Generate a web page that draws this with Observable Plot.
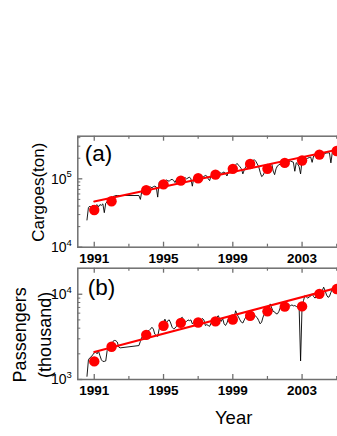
<!DOCTYPE html>
<html><head><meta charset="utf-8">
<script src="https://cdn.jsdelivr.net/npm/d3@7"></script>
<script src="https://cdn.jsdelivr.net/npm/@observablehq/plot@0.6"></script>
<style>
html,body{margin:0;padding:0;background:#fff;overflow:hidden;}
#wrap{position:relative;width:337px;height:436px;overflow:hidden;background:#fff;}
#wrap svg{position:absolute;left:0;}
</style></head><body><div id="wrap"></div>
<script>
// ---------- data ----------
const annualYears = [1991, 1992, 1994, 1995, 1996, 1997, 1998, 1999, 2000, 2001, 2002, 2003, 2004, 2005];
const cargoAnnual = [35, 47, 68, 83, 94, 102, 115, 140, 165, 140, 171, 185, 226, 255]; // thousand tons
const passAnnual = [1.63, 2.42, 3.34, 4.27, 4.62, 4.66, 4.8, 5.06, 5.6, 6.3, 7.15, 7.2, 10.1, 11.5]; // thousand

const fitYears = [1991, 2006];
const cargoFit = [46.5, 301];
const passFit = [2.1, 13.4];

// monthly series: calendar years and month values
const monthYears = [1991, 1992, 1994, 1995, 1996, 1997, 1998, 1999, 2000, 2001, 2002, 2003, 2004, 2005];
const cargoMonthly = [
  [25, 38, 40, 38, 41, 39, 40, 42, 39, 42, 41, 43],
  [32, 44, 46, 48, 49, 52, 55, 56, 57, 57],
  [57, 50, 66, 70, 72, 74, 73, 75, 76, 74, 77, 78],
  [76, 54, 89, 92, 90, 95, 93, 96, 94, 92, 97, 98],
  [95, 88, 98, 100, 97, 102, 99, 101, 104, 100, 103, 106],
  [100, 78, 104, 106, 108, 104, 107, 110, 105, 108, 112, 110],
  [100, 94, 112, 114, 116, 120, 118, 122, 124, 120, 123, 126],
  [120, 110, 128, 132, 138, 142, 150, 160, 168, 158, 150, 140],
  [118, 135, 150, 158, 162, 168, 175, 185, 190, 180, 165, 150],
  [125, 108, 112, 125, 140, 145, 156, 165, 168, 130, 115, 140],
  [155, 160, 165, 162, 168, 170, 172, 175, 180, 182, 178, 175],
  [129, 172, 165, 150, 118, 185, 188, 192, 196, 200, 205, 208],
  [174, 215, 220, 224, 228, 226, 230, 232, 228, 235, 238, 240],
  [240, 171, 245, 255, 260, 262, 265, 268, 270, 272, 275, 278]
];
const passMonthly = [
  [1.09, 1.7, 1.8, 1.85, 1.95, 2.05, 2.1, 2.0, 2.15, 1.9, 1.7, 1.63],
  [1.63, 1.65, 2.19, 2.4, 2.5, 2.65, 2.8, 2.87, 2.85, 2.75, 2.4, 2.35],
  [2.5, 2.8, 3.13, 3.2, 3.35, 3.5, 3.7, 3.75, 3.9, 4.1, 3.9, 3.4],
  [3.28, 3.2, 3.9, 4.5, 4.35, 4.6, 5.1, 4.6, 4.9, 5.0, 4.6, 4.1],
  [3.93, 4.0, 4.2, 4.6, 4.9, 5.2, 5.37, 5.0, 4.7, 4.8, 5.0, 4.9],
  [5.0, 4.5, 4.7, 4.9, 5.1, 4.8, 4.7, 4.9, 5.2, 5.0, 4.3, 4.4],
  [4.3, 4.2, 4.6, 4.9, 4.7, 5.0, 5.4, 5.6, 5.1, 4.8, 5.2, 4.5],
  [4.3, 4.6, 5.2, 5.0, 4.7, 4.8, 5.4, 6.4, 5.8, 5.4, 5.0, 4.7],
  [4.6, 5.0, 5.4, 5.2, 5.6, 5.5, 5.3, 5.6, 5.7, 5.5, 5.3, 4.9],
  [4.5, 4.7, 5.4, 5.9, 6.4, 6.2, 6.8, 7.7, 6.9, 6.3, 6.2, 5.9],
  [5.9, 6.3, 7.0, 7.3, 7.2, 7.5, 7.7, 7.4, 7.6, 7.3, 7.5, 7.3],
  [7.37, 7.2, 7.0, 7.05, 1.65, 7.0, 8.4, 9.66, 9.3, 9.0, 9.3, 9.5],
  [10.1, 9.4, 9.0, 9.5, 9.8, 10.2, 10.1, 11.0, 12.1, 11.0, 9.8, 9.2],
  [9.4, 10.5, 11.5, 11.8, 12.0, 12.2, 12.5, 12.3, 12.6, 12.8, 13.0, 13.1]
];

// axis ticks and labels
const xLabelYears = [1991, 1995, 1999, 2003];
const xMinorYears = [1993, 1997, 2001, 2005];
const aMajor = [1e4, 1e5];
const aExponents = ["4", "5"];
const aMinor = [2e4, 3e4, 4e4, 5e4, 6e4, 7e4, 8e4, 9e4, 2e5, 3e5, 4e5];
const bMajor = [1e3, 1e4];
const bExponents = ["3", "4"];
const bMinor = [2e3, 3e3, 4e3, 5e3, 6e3, 7e3, 8e3, 9e3, 2e4];

// ---------- build tables ----------
const decimalYear = (y, m) => y - 0.42 + (m - 1) / 12;
function monthlyTable(series) {
  const out = [];
  monthYears.forEach((y, i) => series[i].forEach((v, j) => out.push({x: decimalYear(y, j + 1), v: v * 1000})));
  return out;
}
const cargoLine = monthlyTable(cargoMonthly);
const passLine = monthlyTable(passMonthly);
const cargoDots = annualYears.map((y, i) => ({x: y, v: cargoAnnual[i] * 1000}));
const passDots = annualYears.map((y, i) => ({x: y, v: passAnnual[i] * 1000}));
const cargoFitT = fitYears.map((y, i) => ({x: y, v: cargoFit[i] * 1000}));
const passFitT = fitYears.map((y, i) => ({x: y, v: passFit[i] * 1000}));

// ---------- layout ----------
const W = 357, ML = 77.3, FW = W - ML;
const GRAY = "#6f6f6f", RED = "#ff0000";
const FONT = "'Liberation Sans', Arial, sans-serif";

function panel(o) {
  const FH = o.height - o.marginTop - o.marginBottom;
  const marks = [
    Plot.line(o.line, {x: "x", y: "v", stroke: "black", strokeWidth: 0.9}),
    Plot.line(o.fit, {x: "x", y: "v", stroke: RED, strokeWidth: 2}),
    Plot.dot(o.dots, {x: "x", y: "v", r: 5.2, fill: RED}),
    Plot.frame({stroke: GRAY, strokeWidth: 1.5}),
    Plot.ruleX(xLabelYears, {x: d => d, insetTop: FH - 5, stroke: GRAY, strokeWidth: 1.3}),
    Plot.ruleX(xLabelYears, {x: d => d, insetBottom: FH - 5, stroke: GRAY, strokeWidth: 1.3}),
    Plot.ruleX(xMinorYears, {x: d => d, insetTop: FH - 3, stroke: GRAY, strokeWidth: 1.2}),
    Plot.ruleX(xMinorYears, {x: d => d, insetBottom: FH - 3, stroke: GRAY, strokeWidth: 1.2}),
    Plot.ruleY(o.yMajor, {y: d => d, insetRight: FW - 5, stroke: GRAY, strokeWidth: 1.3}),
    Plot.ruleY(o.yMinor, {y: d => d, insetRight: FW - 3, stroke: GRAY, strokeWidth: 1}),
    Plot.text(xLabelYears, {x: d => d, text: d => String(d), frameAnchor: "bottom", lineAnchor: "top", dy: 6, fontWeight: "bold", fontSize: 13.5, fill: "black"}),
    Plot.text(o.yMajor, {y: d => d, text: () => "10", frameAnchor: "left", textAnchor: "end", lineAnchor: "middle", dx: -11.3, dy: 0.5, fontSize: 14, fill: "black"}),
    Plot.text(o.yMajor, {y: d => d, text: (d, i) => o.yExp[i], frameAnchor: "left", textAnchor: "start", lineAnchor: "middle", dx: -11.3, dy: -4.5, fontSize: 9.5, fill: "black"}),
    Plot.text([o.tag], {text: d => d, frameAnchor: "top-left", textAnchor: "start", lineAnchor: "top", dx: o.tagDx, dy: o.tagDy, fontSize: 22.5, fill: "black"}),
    Plot.text([o.ylabel], {text: d => d, frameAnchor: "left", textAnchor: "middle", lineAnchor: "middle", rotate: -90, dx: o.ylabelDx, dy: o.ylabelDy, fontSize: o.ylabelSize, lineHeight: 1.4, fill: "black"})
  ];
  if (o.xlabel) marks.push(Plot.text([o.xlabel], {text: d => d, frameAnchor: "bottom", lineAnchor: "top", dx: 16, dy: 31.5, fontSize: 18.5, fill: "black"}));
  const svg = Plot.plot({
    width: W, height: o.height,
    marginLeft: ML, marginRight: 0, marginTop: o.marginTop, marginBottom: o.marginBottom,
    x: {domain: [1990.05, 2006.2], axis: null},
    y: {type: "log", domain: o.yDomain, axis: null},
    style: {fontFamily: FONT, maxWidth: "none", background: o.bg, overflow: "hidden"},
    marks
  });
  svg.style.top = o.top + "px";
  return svg;
}

const wrap = document.getElementById("wrap");
wrap.appendChild(panel({
  top: 0, height: 270, marginTop: 135.7, marginBottom: 23.3, bg: "white",
  yDomain: [1e4, 4.2e5], yMajor: aMajor, yMinor: aMinor, yExp: aExponents,
  line: cargoLine, dots: cargoDots, fit: cargoFitT,
  tag: "(a)", tagDx: 7, tagDy: 9,
  ylabel: "Cargoes(ton)", ylabelDx: -41.3, ylabelDy: 0.5, ylabelSize: 17
}));
wrap.appendChild(panel({
  top: 262, height: 174, marginTop: 5.7, marginBottom: 57, bg: "transparent",
  yDomain: [1e3, 2.02e4], yMajor: bMajor, yMinor: bMinor, yExp: bExponents,
  line: passLine, dots: passDots, fit: passFitT,
  tag: "(b)", tagDx: 10, tagDy: 10.5,
  ylabel: "Passengers\n(thousand)", ylabelDx: -47.3, ylabelDy: 11, ylabelSize: 18,
  xlabel: "Year"
}));
</script></body></html>
